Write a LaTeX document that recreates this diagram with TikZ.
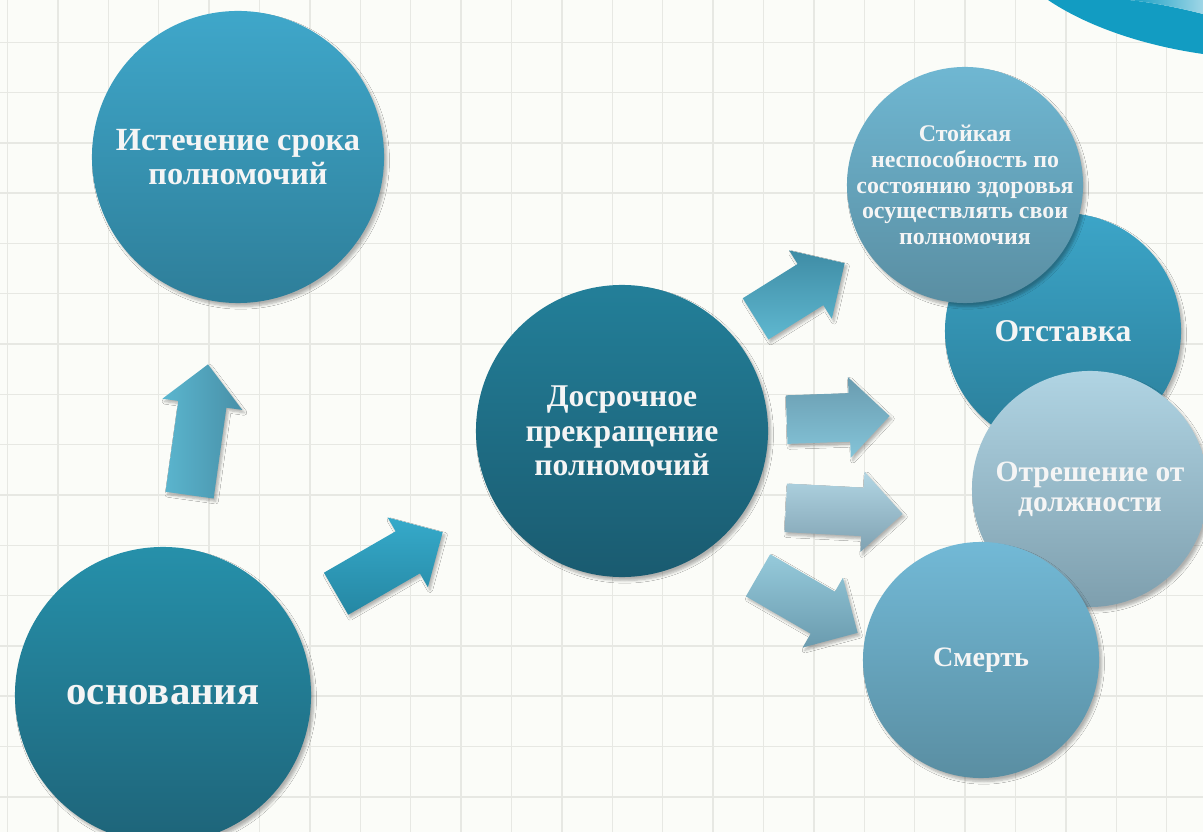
\documentclass[tikz,border=0pt]{standalone}
\usepackage{fontspec}
\setmainfont{Liberation Serif}
\usetikzlibrary{positioning, shapes.arrows, shadows.blur}

\definecolor{paper}{HTML}{FBFCF8}
\definecolor{gridgray}{HTML}{E7E8E3}
\definecolor{swoosh}{HTML}{129CC2}
\definecolor{swooshlight}{HTML}{9FD6E6}

\begin{document}
\begin{tikzpicture}[x=0.025cm, y=-0.025cm,
    gridline/.style={gridgray, line width=1pt},
    bubble/.style={circle, inner sep=0pt, align=center, text=white!96!black,
        font=\bfseries\fontsize{22.5}{24.5}\selectfont,
        blur shadow={shadow xshift=2pt, shadow yshift=-2.5pt, shadow blur steps=6, shadow opacity=30}},
    bigbubble/.style={bubble, minimum size=7.3cm},
    smallbubble/.style={bubble, minimum size=5.9cm},
    blockarrow/.style={single arrow, anchor=tip, inner xsep=0pt, inner ysep=0.6cm, minimum width=2cm,
        single arrow head extend=0.4cm,
        blur shadow={shadow xshift=1.5pt, shadow yshift=-2pt, shadow blur steps=5, shadow opacity=30}},
]
    \useasboundingbox (0,0) rectangle (1203,832);
    \fill[paper] (0,0) rectangle (1203,832);

    % Grid paper
    \foreach \gx in {0,...,23}
        \draw[gridline] ({7.5+50.4*\gx},0) -- ++(0,832);
    \foreach \gy in {0,...,16}
        \draw[gridline] (0,{-8+50.3*\gy}) -- ++(1203,0);

    % Corner swoosh
    \fill[swoosh] (1048,0) .. controls (1085,25) and (1140,45) .. (1203,54)
        -- (1203,14) .. controls (1180,8) and (1150,2) .. (1128,0) -- cycle;
    \shade[left color=swoosh, right color=swooshlight] (1128,0) .. controls (1150,2) and (1180,8) .. (1203,14) -- (1203,0) -- cycle;

    % Left part
    \node[bigbubble, font=\bfseries\fontsize{23}{24.5}\selectfont,
        top color={rgb,255:red,63;green,167;blue,202}, bottom color={rgb,255:red,46;green,126;blue,153}]
        (term) at (238,157) {Истечение срока\\полномочий};
    \node[bigbubble, minimum size=7.4cm, font=\bfseries\fontsize{29}{32}\selectfont,
        top color={rgb,255:red,38;green,144;blue,170}, bottom color={rgb,255:red,30;green,100;blue,121}]
        (grounds) at (163,695) {основания};
    \node[bigbubble, top color={rgb,255:red,35;green,127;blue,153}, bottom color={rgb,255:red,26;green,91;blue,112}]
        (early) at (622,431) {Досрочное\\прекращение\\полномочий};

    % Right part
    \node[smallbubble, top color={rgb,255:red,60;green,165;blue,200}, bottom color={rgb,255:red,42;green,125;blue,152}]
        (resign) at (1063,331) {Отставка};
    \node[smallbubble, inner sep=-20pt, font=\bfseries\fontsize{17}{18.3}\selectfont,
        top color={rgb,255:red,111;green,183;blue,210}, bottom color={rgb,255:red,90;green,142;blue,162}]
        (health) at (965,185) {Стойкая\\неспособность по\\состоянию здоровья\\осуществлять свои\\полномочия};
    \node[smallbubble, font=\bfseries\fontsize{21}{21.5}\selectfont,
        top color={rgb,255:red,176;green,212;blue,227}, bottom color={rgb,255:red,126;green,159;blue,174}]
        (removal) at (1090,489) {Отрешение от\\должности};
    \node[smallbubble, font=\bfseries\fontsize{20}{22}\selectfont,
        top color={rgb,255:red,114;green,185;blue,214}, bottom color={rgb,255:red,90;green,142;blue,162}]
        (death) at (981,660) {Смерть};

    % Block arrows (placed by their tips)
    \node[blockarrow, minimum height=3.3cm, rotate=82,
        left color={rgb,255:red,91;green,182;blue,207}, right color={rgb,255:red,72;green,144;blue,168}]
        (toterm) at (208,364) {};
    \node[blockarrow, minimum height=3.075cm, rotate=30,
        top color={rgb,255:red,54;green,170;blue,202}, bottom color={rgb,255:red,37;green,135;blue,163}]
        (toearly) at (443,532) {};
    \node[blockarrow, minimum height=2.625cm, rotate=32,
        top color={rgb,255:red,63;green,140;blue,165}, bottom color={rgb,255:red,95;green,184;blue,208}]
        (tohealth) at (845,263) {};
    \node[blockarrow, minimum height=2.575cm, rotate=2,
        top color={rgb,255:red,106;green,156;blue,176}, bottom color={rgb,255:red,132;green,196;blue,216}]
        (toresign) at (890,416) {};
    \node[blockarrow, minimum height=2.925cm, rotate=-3,
        top color={rgb,255:red,178;green,214;blue,228}, bottom color={rgb,255:red,127;green,161;blue,177}]
        (toremoval) at (903,514) {};
    \node[blockarrow, minimum height=2.875cm, rotate=-30,
        top color={rgb,255:red,150;green,202;blue,219}, bottom color={rgb,255:red,106;green,155;blue,174}]
        (todeath) at (858,633) {};
\end{tikzpicture}
\end{document}
